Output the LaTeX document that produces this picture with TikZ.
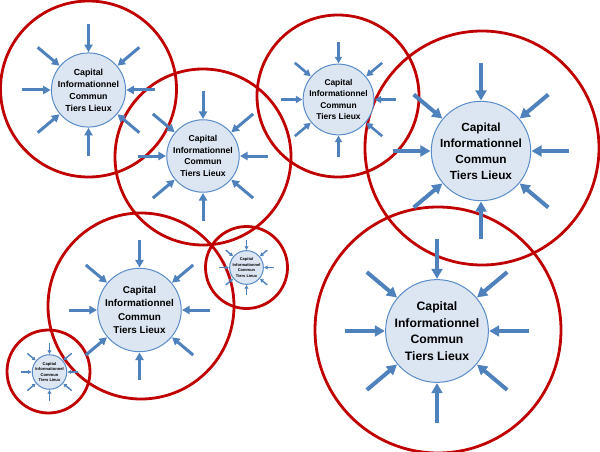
\documentclass[tikz,border=0pt]{standalone}
\usepackage{fontspec}
\setmainfont{Liberation Sans}
\usetikzlibrary{arrows.meta,calc}
\definecolor{arrowblue}{RGB}{79,129,189}
\definecolor{capfill}{RGB}{220,230,242}
\definecolor{capline}{RGB}{90,140,200}
\definecolor{ringred}{RGB}{192,0,0}
\tikzset{
  redring/.style={circle, draw=ringred, line width=2.8pt, inner sep=0pt},
  capnode/.style={circle, draw=capline, fill=capfill, line width=1pt, inner sep=0pt, outer sep=0.8pt, align=center, text=black},
  inarrow/.style={draw=arrowblue, -{Triangle[length=0pt 2.5, width=0pt 2.7]}}
}
\begin{document}
\begin{tikzpicture}[x=1pt,y=-1pt]
\useasboundingbox[fill=white] (0,0) rectangle (600,452);
% red rings
\foreach \n/\x/\y/\R in {r1/88.5/89/88, r2/203/157/88, r3/338/96/81, r4/482/148/117,
                          r5/438/330/123, r6/141/306/93, r7/246.5/267.5/41, r8/48.5/371.5/41.5}{
  \node[redring, minimum size=2*\R pt] (\n) at (\x,\y) {};
}
% blue centres with arrows
\foreach \n/\x/\y/\r/\f/\w in {g1/88.5/90/35.5/8.8/3, g2/203/156/35/8.6/3, g3/338.5/99.5/30.5/8.4/2.6,
                                g4/481/151/47/11.8/4, g5/437/331/49/12.2/4, g6/139.5/310/37.5/9.9/3,
                                g7/246.5/267.5/14.5/4/1.4, g8/49.5/372/15.5/4.1/1.4}{
  \pgfmathsetmacro\bs{1.36*\f}
  \node[capnode, minimum size=2*\r pt, font=\fontsize{\f}{\bs}\selectfont\bfseries] (\n) at (\x,\y)
    {Capital\\Informationnel\\Commun\\Tiers Lieux};
  \foreach \a in {0,40,90,140,180,220,270,320}{
    \coordinate (\n-\a) at ($(\n.center)+(\a:1.87*\r)$);
    \draw[inarrow, line width=\w pt] (\n-\a) -- (\n);
  }
}
\end{tikzpicture}
\end{document}
